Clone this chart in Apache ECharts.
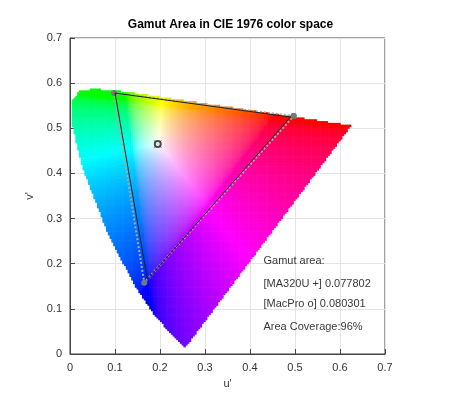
<!DOCTYPE html><html><head><meta charset="utf-8"><script src="https://cdn.jsdelivr.net/npm/echarts@6/dist/echarts.min.js"></script>
<style>html,body{margin:0;background:#fff}#c{width:461px;height:408px}</style></head><body><div id="c"></div><script>
// spectral locus (u', v')
const locusU=[0.2557,0.2522,0.2347,0.2161,0.1877,0.144,0.0828,0.0282,0.0035,0.0046,0.0231,0.050,0.0792,0.1127,0.1531,0.2026,0.2623,0.4035,0.5203,0.6234];
const locusV=[0.0159,0.0169,0.035,0.0549,0.0871,0.151,0.2708,0.4117,0.513,0.5638,0.5837,0.5868,0.5856,0.5821,0.5766,0.5694,0.5604,0.5393,0.5219,0.5065];
const ma320U=[0.490,0.100,0.172];
const ma320V=[0.525,0.578,0.165];
const macProU=[0.497,0.098,0.165];
const macProV=[0.527,0.578,0.158];
const whiteU=[0.195];const whiteV=[0.465];
const notes=['Gamut area:','[MA320U +] 0.077802','[MacPro o] 0.080301','Area Coverage:96%'];
const noteV=[0.205,0.155,0.11,0.06];

const poly=locusU.map((u,i)=>[u,locusV[i]]);
function inside(p){let c=false;for(let i=0,j=poly.length-1;i<poly.length;j=i++){const a=poly[i],b=poly[j];
 if((a[1]>p[1])!=(b[1]>p[1])&&p[0]<(b[0]-a[0])*(p[1]-a[1])/(b[1]-a[1])+a[0])c=!c;}return c;}
function col(u,v){const d=6*u-16*v+12,x=9*u/d,y=4*v/d;const X=x/y,Y=1,Z=(1-x-y)/y;
 let r=3.2406*X-1.5372*Y-0.4986*Z,g=-0.9689*X+1.8758*Y+0.0415*Z,b=0.0557*X-0.2040*Y+1.0570*Z;
 r=Math.max(r,0);g=Math.max(g,0);b=Math.max(b,0);const m=Math.max(r,g,b);
 const f=c=>{c/=m;c=c<=0.0031308?12.92*c:1.055*Math.pow(c,1/2.4)-0.055;return Math.round(255*Math.min(1,c));};
 return 'rgb('+f(r)+','+f(g)+','+f(b)+')';}
const st=0.004;const cells=[];
for(let u=0;u<0.63;u+=st)for(let v=0;v<0.6;v+=st){const cu=u+st/2,cv=v+st/2;if(inside([cu,cv]))cells.push([u,v,col(cu,cv)]);}
const ch=echarts.init(document.getElementById('c'));
const tri=(U,V)=>U.concat(U[0]).map((u,i)=>[u,V.concat(V[0])[i]]);
ch.setOption({animation:false,
title:{text:'Gamut Area in CIE 1976 color space',left:'center',top:14,textStyle:{fontSize:12,fontWeight:'bold',fontFamily:'Liberation Sans',color:'#000'}},
grid:{left:70,right:76,top:38,bottom:54,show:true,borderColor:'#444',borderWidth:1},
xAxis:{type:'value',min:0,max:0.7,interval:0.1,name:"u'",nameLocation:'middle',nameGap:24,nameTextStyle:{fontSize:11,color:'#333'},
 axisLine:{lineStyle:{color:'#444'}},axisTick:{inside:true,lineStyle:{color:'#444'}},axisLabel:{color:'#333',fontSize:11,fontFamily:'Liberation Sans'},splitLine:{lineStyle:{color:'#e3e3e3'}}},
yAxis:{type:'value',min:0,max:0.7,interval:0.1,name:"v'",nameLocation:'middle',nameGap:32,nameTextStyle:{fontSize:11,color:'#333'},
 axisLine:{show:true,lineStyle:{color:'#444'}},axisTick:{inside:true,lineStyle:{color:'#444'}},axisLabel:{color:'#333',fontSize:11,fontFamily:'Liberation Sans'},splitLine:{lineStyle:{color:'#e3e3e3'}}},
series:[
{type:'custom',data:cells,silent:true,z:1,renderItem:(p,api)=>{const a=api.coord([api.value(0),api.value(1)]),b=api.coord([api.value(0)+st,api.value(1)+st]);
 return{type:'rect',shape:{x:a[0],y:b[1],width:b[0]-a[0]+0.6,height:a[1]-b[1]+0.6},style:{fill:cells[p.dataIndex][2]}};}},
{type:'line',data:tri(macProU,macProV),symbol:'circle',symbolSize:6,itemStyle:{color:'#777'},lineStyle:{color:'#aaa',width:2,type:'dotted'},z:3},
{type:'line',data:tri(ma320U,ma320V),symbol:'none',lineStyle:{color:'#222',width:1},z:4},
{type:'scatter',data:whiteU.map((u,i)=>[u,whiteV[i]]),symbol:'path://M0,0L10,10M10,0L0,10',symbolSize:7,itemStyle:{color:'none',borderColor:'#222',borderWidth:1},z:5},
{type:'scatter',data:whiteU.map((u,i)=>[u,whiteV[i]]),symbol:'emptyCircle',symbolSize:6,itemStyle:{color:'#222'},z:5},
{type:'scatter',data:noteV.map((v,i)=>[0.43,v,notes[i]]),symbolSize:0,z:6,label:{show:true,position:'right',distance:0,formatter:p=>p.data[2],color:'#000',fontSize:11,fontFamily:'Liberation Sans'}}
]});
</script></body></html>
